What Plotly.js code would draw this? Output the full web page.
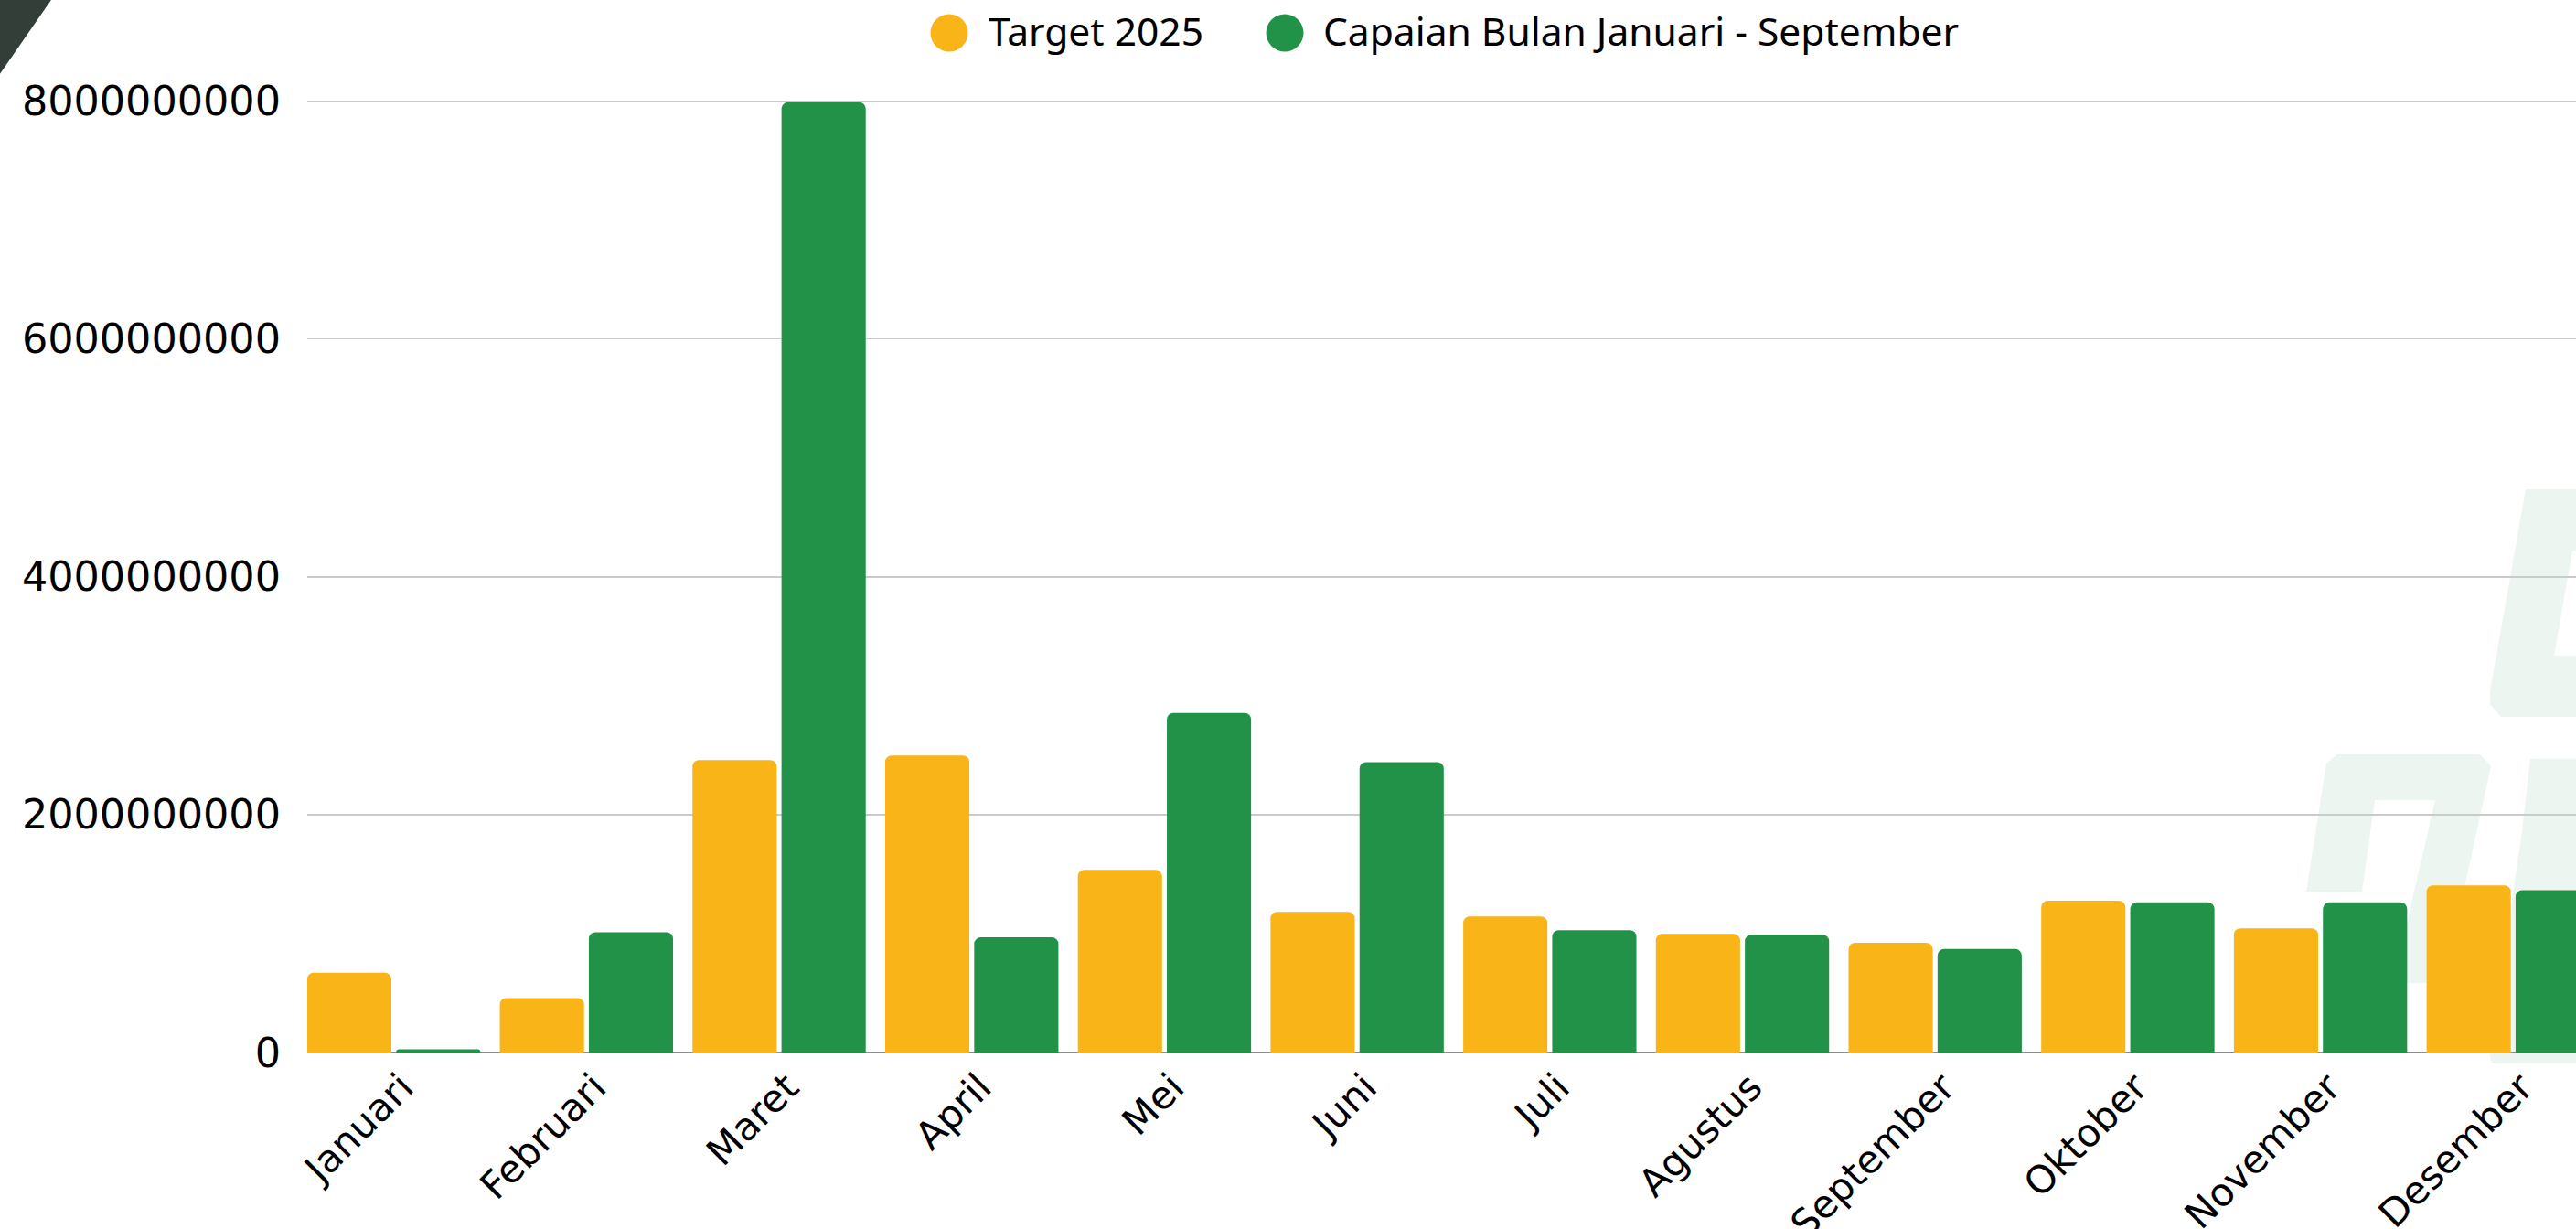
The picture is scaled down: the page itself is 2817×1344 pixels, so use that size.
<!DOCTYPE html>
<html>
<head>
<meta charset="utf-8">
<script src="https://cdn.plot.ly/plotly-3.0.1.min.js"></script>
<style>
  html, body { margin: 0; padding: 0; background: #ffffff; overflow: hidden; }
  #chart { width: 2817px; height: 1344px; }
</style>
</head>
<body>
<div id="chart"></div>
<script>
// ---- Data ----
const months = ["Januari", "Februari", "Maret", "April", "Mei", "Juni", "Juli",
                "Agustus", "September", "Oktober", "November", "Desember"];
const seriesNames = ["Target 2025", "Capaian Bulan Januari - September"];
const target2025 = [671000000, 458000000, 2459000000, 2497000000, 1535000000, 1183000000,
                    1144000000, 998000000, 923000000, 1277000000, 1044000000, 1406000000];
const capaian = [27000000, 1012000000, 7990000000, 968000000, 2854000000, 2441000000,
                 1029000000, 990000000, 870000000, 1262000000, 1262000000, 1365000000];
const yTicks = [0, 2000000000, 4000000000, 6000000000, 8000000000];

// ---- Style ----
const colors = ["#F9B418", "#239249"];
const W = 2817, H = 1344;
const M = { l: 336, r: 0, t: 97, b: 193 };
const PW = W - M.l - M.r, PH = H - M.t - M.b;
// pixel -> paper helpers for decorations
const px = x => (x - M.l) / PW;
const py = y => (H - M.b - y) / PH;
const P = (x, y) => px(x).toFixed(5) + "," + py(y).toFixed(5);
const path = pts => "M" + pts.map(p => P(p[0], p[1])).join(" L") + " Z";

const traces = [
  { type: "bar", name: seriesNames[0], x: months, y: target2025,
    marker: { color: colors[0] }, showlegend: false, hoverinfo: "x+y" },
  { type: "bar", name: seriesNames[1], x: months, y: capaian,
    marker: { color: colors[1] }, showlegend: false, hoverinfo: "x+y" }
];

const wm = "#edf5f0";
const shapes = [
  // dark corner decoration
  { type: "path", xref: "paper", yref: "paper", layer: "above",
    path: path([[-3, -3], [58, -3], [-3, 85]]), fillcolor: "#343e38", line: { width: 0 } },
  // faint watermark logo pieces
  { type: "path", xref: "paper", yref: "paper", layer: "below",
    path: path([[2762, 535], [2840, 535], [2840, 603], [2813, 603], [2793, 717], [2840, 717],
                [2840, 784], [2735, 784], [2723, 770], [2723, 756]]),
    fillcolor: wm, line: { width: 0 } },
  { type: "path", xref: "paper", yref: "paper", layer: "below",
    path: path([[2522, 975], [2544, 835], [2556, 825], [2712, 825], [2724, 838], [2672, 1075],
                [2617, 1075], [2663, 875], [2597, 875], [2583, 975]]),
    fillcolor: wm, line: { width: 0 } },
  { type: "path", xref: "paper", yref: "paper", layer: "below",
    path: path([[2767, 830], [2840, 830], [2840, 1163], [2725, 1163], [2722, 1150], [2757, 917]]),
    fillcolor: wm, line: { width: 0 } }
];

// manual legend (large circle markers)
const legendItems = [
  { cx: 1038, tx: 1079 },
  { cx: 1405, tx: 1445 }
];
const annotations = [];
legendItems.forEach((it, i) => {
  shapes.push({ type: "circle", xref: "paper", yref: "paper", layer: "above",
    xsizemode: "pixel", ysizemode: "pixel", xanchor: px(it.cx), yanchor: py(36),
    x0: -20.5, x1: 20.5, y0: -20.5, y1: 20.5,
    fillcolor: colors[i], line: { width: 0 } });
  annotations.push({ xref: "paper", yref: "paper", x: px(it.tx), y: py(34),
    xanchor: "left", yanchor: "middle", showarrow: false, text: seriesNames[i],
    font: { family: "Noto Sans", size: 42.5, color: "#000000" } });
});

const layout = {
  width: W, height: H,
  margin: M,
  paper_bgcolor: "#ffffff", plot_bgcolor: "rgba(0,0,0,0)",
  barmode: "group", bargap: 0.076, bargroupgap: 0.054, barcornerradius: 7,
  showlegend: false,
  font: { family: "DejaVu Sans", color: "#000000" },
  xaxis: {
    type: "category", range: [-0.449, 11.326],
    tickangle: -45, tickfont: { family: "DejaVu Sans", size: 42, color: "#000000" },
    ticklabelshift: 9, ticklabelstandoff: 4,
    showgrid: false, showline: false, ticks: "", automargin: false
  },
  yaxis: {
    range: [0, 8104000000], tickvals: yTicks, tickformat: "d",
    tickfont: { family: "DejaVu Sans", size: 44.5, color: "#000000" },
    showgrid: true, gridcolor: "#cacaca", gridwidth: 1.5,
    zeroline: true, zerolinecolor: "#8e8e8e", zerolinewidth: 1.5,
    showline: false, ticks: "", ticklabelstandoff: 28, automargin: false
  },
  shapes: shapes,
  annotations: annotations
};

Plotly.newPlot("chart", traces, layout, { staticPlot: true, displayModeBar: false });
</script>
</body>
</html>
